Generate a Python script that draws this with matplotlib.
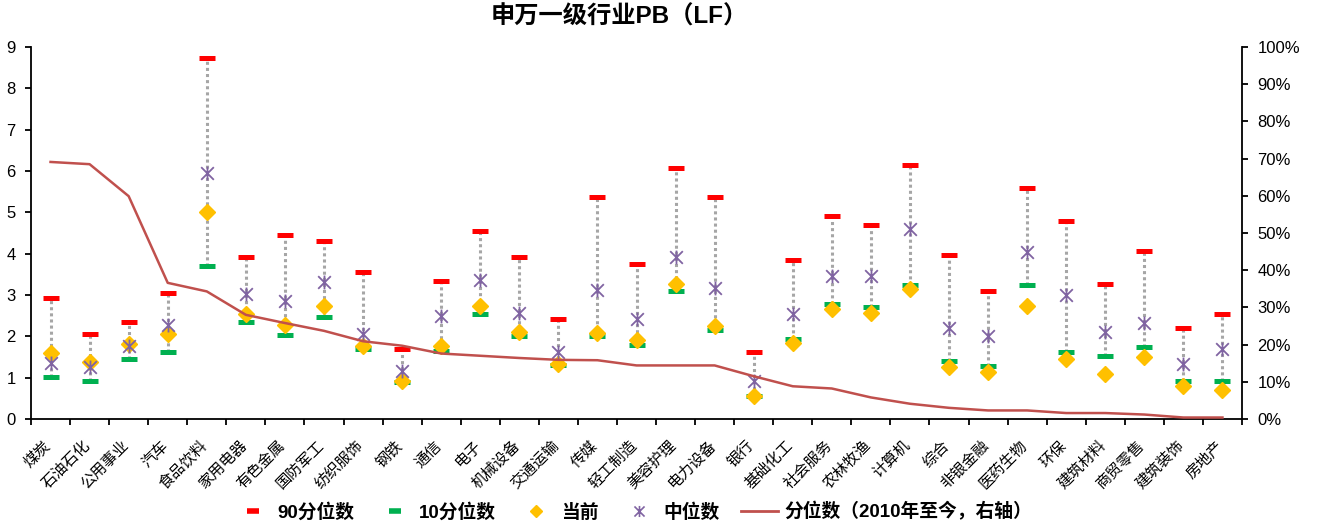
import matplotlib
matplotlib.use('Agg')
import matplotlib.pyplot as plt
from matplotlib.path import Path
from matplotlib.lines import Line2D
from matplotlib.ticker import PercentFormatter, MultipleLocator
import matplotlib.transforms as mtransforms
import numpy as np

plt.rcParams['font.family'] = ['Liberation Sans', 'Noto Sans CJK SC', 'DejaVu Sans']

cats = ['煤炭', '石油石化', '公用事业', '汽车', '食品饮料', '家用电器', '有色金属', '国防军工',
        '纺织服饰', '钢铁', '通信', '电子', '机械设备', '交通运输', '传媒', '轻工制造',
        '美容护理', '电力设备', '银行', '基础化工', '社会服务', '农林牧渔', '计算机', '综合',
        '非银金融', '医药生物', '环保', '建筑材料', '商贸零售', '建筑装饰', '房地产']
p90 = [2.93, 2.06, 2.35, 3.05, 8.73, 3.93, 4.46, 4.31, 3.55, 1.69, 3.33, 4.54, 3.91, 2.42, 5.37, 3.75,
       6.07, 5.37, 1.63, 3.85, 4.90, 4.70, 6.15, 3.97, 3.10, 5.59, 4.78, 3.27, 4.06, 2.20, 2.54]
p10 = [1.01, 0.93, 1.45, 1.61, 3.71, 2.34, 2.04, 2.47, 1.69, 0.89, 1.64, 2.54, 2.02, 1.31, 2.00, 1.80,
       3.10, 2.16, 0.56, 1.94, 2.78, 2.70, 3.25, 1.41, 1.29, 3.23, 1.61, 1.53, 1.73, 0.91, 0.93]
current = [1.60, 1.38, 1.81, 2.06, 5.02, 2.54, 2.28, 2.73, 1.77, 0.91, 1.77, 2.74, 2.10, 1.33, 2.08, 1.90,
           3.27, 2.24, 0.56, 1.85, 2.65, 2.56, 3.15, 1.25, 1.14, 2.74, 1.44, 1.09, 1.49, 0.79, 0.69]
median = [1.35, 1.26, 1.77, 2.27, 5.94, 3.03, 2.86, 3.31, 2.06, 1.15, 2.48, 3.37, 2.56, 1.61, 3.13, 2.42,
          3.91, 3.17, 0.91, 2.54, 3.45, 3.45, 4.60, 2.20, 2.00, 4.03, 2.99, 2.10, 2.32, 1.33, 1.69]
pct = [69.1, 68.5, 59.9, 36.6, 34.3, 28.0, 25.8, 23.7, 20.9, 19.7, 17.6, 17.0, 16.4, 15.9, 15.8, 14.4,
       14.4, 14.4, 11.5, 8.8, 8.2, 5.8, 4.1, 3.0, 2.3, 2.3, 1.6, 1.6, 1.2, 0.4, 0.4]
legend_labels = ['90分位数', '10分位数', '当前', '中位数', '分位数（2010年至今，右轴）']
title = '申万一级行业PB（LF）'

C_RED = '#FF0000'
C_GREEN = '#00B050'
C_GOLD = '#FFC000'
C_PURPLE = '#8064A2'
C_LINE = '#C0504D'
C_DOT = '#A6A6A6'

star = Path([(-1, -1), (1, 1), (-1, 1), (1, -1), (0, -1.1), (0, 1.1)],
            [Path.MOVETO, Path.LINETO] * 3)

W, H = 1317, 524
fig = plt.figure(figsize=(W / 100, H / 100), dpi=100)
ax = fig.add_axes([31 / W, 1 - 419 / H, (1242 - 31) / W, (419 - 47) / H])
x = np.arange(len(cats)) + 0.5

ax.vlines(x, p10, p90, colors=C_DOT, linestyles=[(0, (1, 1))], linewidth=2.2, zorder=1)
ax.plot(x, p90, ls='none', marker='_', ms=12, mew=3.6, color=C_RED, zorder=3)
ax.plot(x, p10, ls='none', marker='_', ms=12, mew=3.6, color=C_GREEN, zorder=3)
ax.plot(x, current, ls='none', marker='D', ms=8, color=C_GOLD, mec=C_GOLD, zorder=4)
ax.plot(x, median, ls='none', marker=star, ms=10, mew=1.3, color=C_PURPLE, mfc='none', zorder=5)

ax.set_xlim(0, len(cats))
ax.set_ylim(0, 9)
ax.set_yticks(range(10))
ax.set_xticks(np.arange(len(cats) + 1))
ax.set_xticks(x, minor=True)
ax.set_xticklabels(cats, minor=True, rotation=45, ha='right', fontsize=11,
                   family=['Noto Sans CJK SC'])
ax.tick_params(axis='x', which='major', length=4, width=1.3, labelbottom=False)
ax.tick_params(axis='x', which='minor', length=0, pad=13)
ax.tick_params(axis='y', direction='out', length=4, width=1.3, labelsize=12, pad=7)
off = mtransforms.ScaledTranslation(4 / 100, 0, fig.dpi_scale_trans)
for lab in ax.get_xticklabels(minor=True):
    lab.set_transform(lab.get_transform() + off)

for s in ['top', 'right']:
    ax.spines[s].set_visible(False)
for s in ['left', 'bottom']:
    ax.spines[s].set_linewidth(1.3)

ax2 = ax.twinx()
ax2.plot(x, np.array(pct) / 100, color=C_LINE, lw=1.8, zorder=6)
ax2.set_ylim(0, 1)
ax2.yaxis.set_major_locator(MultipleLocator(0.1))
ax2.yaxis.set_major_formatter(PercentFormatter(1, decimals=0))
ax2.tick_params(axis='y', direction='out', length=4, width=1.3, labelsize=12, pad=7)
for s in ['top', 'left', 'bottom']:
    ax2.spines[s].set_visible(False)
ax2.spines['right'].set_linewidth(1.3)

fig.text(619 / W, 1 - 17 / H, title, ha='center', va='center', fontsize=17.5, fontweight='bold',
         family=['Liberation Sans', 'Noto Sans CJK SC'])

handles = [
    Line2D([], [], ls='none', marker='_', ms=9, mew=4, color=C_RED),
    Line2D([], [], ls='none', marker='_', ms=9, mew=4, color=C_GREEN),
    Line2D([], [], ls='none', marker='D', ms=6, color=C_GOLD),
    Line2D([], [], ls='none', marker=star, ms=8, mew=1.2, color=C_PURPLE),
    Line2D([], [], color=C_LINE, lw=2),
]
fig.legend(handles, legend_labels, loc='center', bbox_to_anchor=(633 / W, 1 - 512 / H), ncol=5,
           frameon=False, prop=dict(family=['Liberation Sans', 'Noto Sans CJK SC'], weight='bold', size=13.5),
           handlelength=2.0, handletextpad=0.3, columnspacing=1.15)

fig.savefig('out.png', dpi=100)
